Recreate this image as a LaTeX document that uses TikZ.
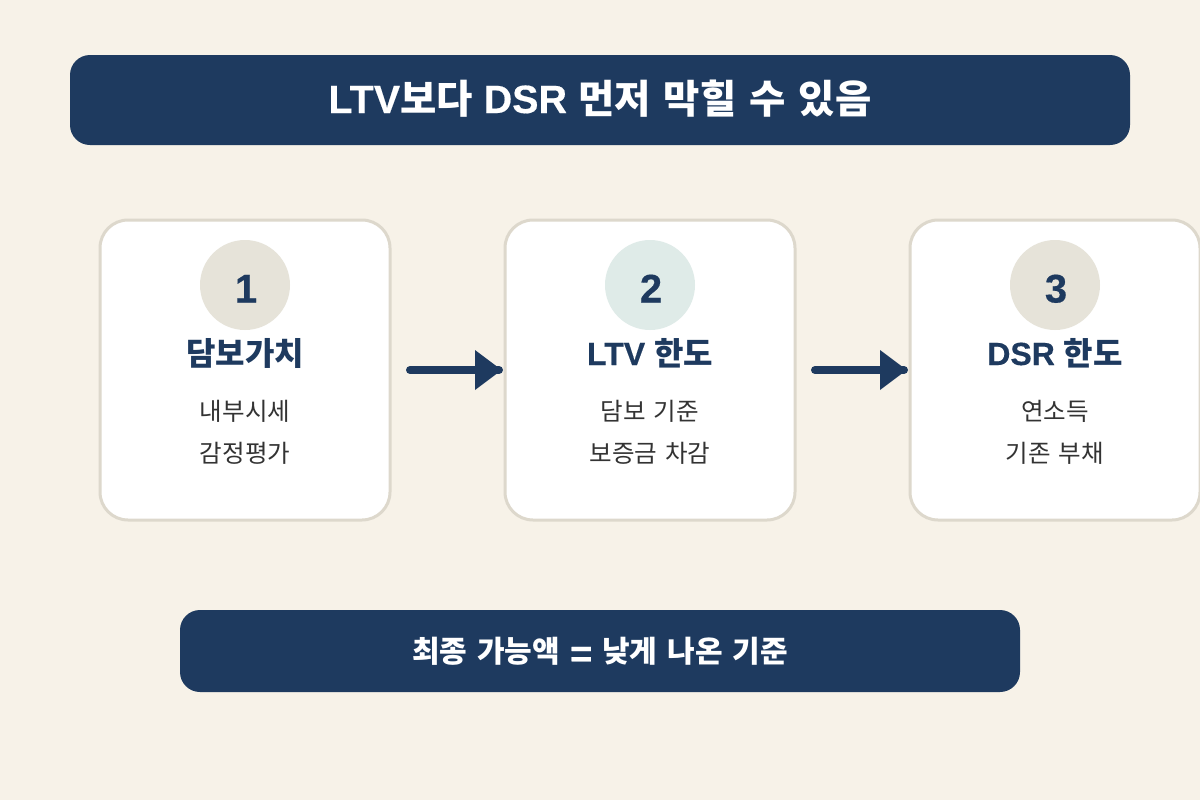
\documentclass[tikz,border=0pt]{standalone}
\usepackage{fontspec}
\usetikzlibrary{arrows.meta}
\setmainfont{Liberation Sans}[BoldFeatures={FakeBold=0.4}]
\newfontfamily\kr[WordSpace=1.45]{Noto Sans CJK KR}
\definecolor{paper}{HTML}{F7F2E8}
\definecolor{navy}{HTML}{1E3A5F}
\definecolor{edge}{HTML}{DDD8CC}
\definecolor{sand}{HTML}{E6E3D9}
\definecolor{mint}{HTML}{DFEBE8}
\definecolor{ink}{HTML}{333333}
\begin{document}
\begin{tikzpicture}[
      x=0.75pt,y=-0.75pt,
      banner/.style={fill=navy,rounded corners=15pt,outer sep=0pt,inner sep=0pt},
      card/.style={draw=edge,line width=2.25pt,fill=white,rounded corners=21pt,minimum width=217.5pt,minimum height=225pt,outer sep=0pt,inner sep=0pt},
      badge/.style={circle,minimum size=67.5pt,inner sep=0pt,outer sep=0pt},
      badgenum/.style={anchor=base,text=navy,font=\bfseries\fontsize{30}{30}\selectfont,inner sep=0pt},
      cardtitle/.style={anchor=base,text=navy,font=\bfseries\fontsize{24}{24}\selectfont,inner sep=0pt},
      cardtext/.style={anchor=base,text=ink,font=\fontsize{18.4}{18.4}\selectfont,inner sep=0pt},
      flowline/.style={draw=navy,line width=6pt,line cap=round,shorten <=15pt,shorten >=4.5pt},
      flowhead/.style={draw=navy,line width=0.5pt,-{Triangle[length=20pt,width=30pt,line width=0pt]},shorten <=60pt,shorten >=2.5pt}
    ]
    \fill[paper] (0,0) rectangle (1200,800);
    \clip (0,0) rectangle (1200,800);
    % Draw the banners.
    \node[banner,minimum width=795pt,minimum height=67.5pt] (top) at (600,100) {};
    \node[anchor=base,text=white,font=\bfseries\fontsize{29.6}{29.6}\selectfont,inner sep=0pt] (toptext) at (600,113) {LTV{\kr 보다} DSR {\kr 먼저 막힐 수 있음}};
    \node[banner,minimum width=630pt,minimum height=61.5pt] (bottom) at (600,651) {};
    \node[anchor=base,text=white,font=\bfseries\fontsize{22.5}{22.5}\selectfont,inner sep=0pt] (bottomtext) at (600,662) {\kr 최종 가능액 \raisebox{-3.5pt}{\rmfamily\fontsize{28.5}{28.5}\selectfont =} 낮게 나온 기준};
    % Draw the cards.
    \node[card] (first) at (245,370) {};
    \node[card] (second) at (650,370) {};
    \node[card] (third) at (1055,370) {};
    % Draw the badges.
    \node[badge,fill=sand] (firstbadge) at (245,285) {};
    \node[badge,fill=mint] (secondbadge) at (650,285) {};
    \node[badge,fill=sand] (thirdbadge) at (1055,285) {};
    \node[badgenum] (firstnum) at (246,302.5) {1};
    \node[badgenum] (secondnum) at (651,302.5) {2};
    \node[badgenum] (thirdnum) at (1056,302.5) {3};
    % Draw the card texts.
    \node[cardtitle] (firsttitle) at (245,365) {\kr 담보가치};
    \node[cardtitle] (secondtitle) at (650,365) {LTV {\kr 한도}};
    \node[cardtitle] (thirdtitle) at (1055,365) {DSR {\kr 한도}};
    \node[cardtext] (firstup) at (245,420) {\kr 내부시세};
    \node[cardtext] (firstdown) at (245,462) {\kr 감정평가};
    \node[cardtext] (secondup) at (650,420) {\kr 담보 기준};
    \node[cardtext] (seconddown) at (650,462) {\kr 보증금 차감};
    \node[cardtext] (thirdup) at (1055,420) {\kr 연소득};
    \node[cardtext] (thirddown) at (1055,462) {\kr 기존 부채};
    % Draw the transitions.
    \draw[flowline] (first.east) -- (second.west);
    \draw[flowhead] (first.east) -- (second.west);
    \draw[flowline] (second.east) -- (third.west);
    \draw[flowhead] (second.east) -- (third.west);
    \end{tikzpicture}
\end{document}
